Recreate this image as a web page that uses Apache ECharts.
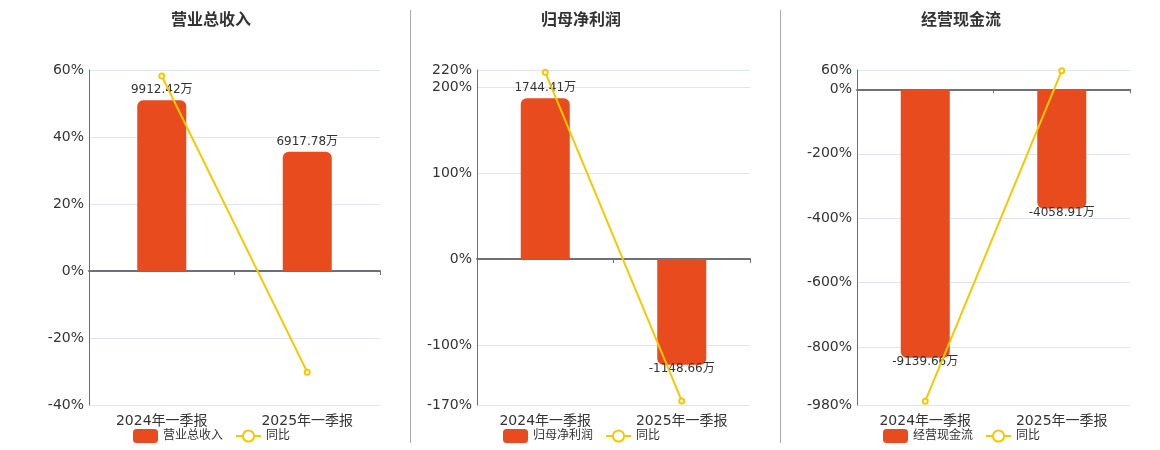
<!DOCTYPE html>
<html><head><meta charset="utf-8">
<script src="https://cdn.jsdelivr.net/npm/echarts@6/dist/echarts.min.js"></script>
<style>html,body{margin:0;padding:0;background:#fff}#c{width:1160px;height:450px}</style>
</head><body><div id="c"></div>
<script>
const categories = ['2024年一季报', '2025年一季报'];
const titles = ['营业总收入', '归母净利润', '经营现金流'];
const revenueValues = [9912.42, 6917.78];
const revenueYoY = [58.2, -30.2];
const netProfitValues = [1744.41, -1148.66];
const netProfitYoY = [217.3, -165.3];
const cashFlowValues = [-9139.66, -4058.91];
const cashFlowYoY = [-968, 57.9];
const revenueTicks = [-40, -20, 0, 20, 40, 60];
const netProfitTicks = [-170, -100, 0, 100, 200, 220];
const cashFlowTicks = [-980, -800, -600, -400, -200, 0, 60];

const panels = [
  { title: titles[0], bars: revenueValues, yoy: revenueYoY, ticks: revenueTicks },
  { title: titles[1], bars: netProfitValues, yoy: netProfitYoY, ticks: netProfitTicks },
  { title: titles[2], bars: cashFlowValues, yoy: cashFlowYoY, ticks: cashFlowTicks }
];
const gridLeft = [89, 477, 857];
const gridWidth = [291, 273, 273];
const titleLeft = [166, 536, 916];
const legendLeft = [128, 498, 878];
const BAR = '#e84b1d', LINE = '#f5c800', AXIS = '#6e7079';
const FONT = '"DejaVu Sans", "Noto Sans CJK SC", sans-serif';

const option = {
  animation: false,
  textStyle: { fontFamily: FONT },
  title: [], legend: [], grid: [], xAxis: [], yAxis: [], series: [],
  graphic: [
    { type: 'line', shape: { x1: 410.5, y1: 10, x2: 410.5, y2: 443 }, style: { stroke: '#aaa', lineWidth: 1 } },
    { type: 'line', shape: { x1: 780.5, y1: 10, x2: 780.5, y2: 443 }, style: { stroke: '#aaa', lineWidth: 1 } }
  ]
};

panels.forEach((p, i) => {
  const pmin = p.ticks[0], pmax = p.ticks[p.ticks.length - 1];
  let big = p.bars[0];
  p.bars.forEach(v => { if (Math.abs(v) > Math.abs(big)) big = v; });
  const scale = big > 0 ? (big / 0.85) / pmax : (big / 0.85) / pmin;
  option.title.push({
    text: p.title, left: titleLeft[i], top: 8,
    textStyle: { fontSize: 16, fontWeight: 'bold', color: '#333', fontFamily: FONT }
  });
  option.legend.push({
    left: legendLeft[i], top: 424, itemWidth: 25, itemHeight: 14, itemGap: 12,
    textStyle: { fontSize: 12, color: '#333', fontFamily: FONT },
    data: [{ name: p.title, icon: 'roundRect' }, '同比']
  });
  option.grid.push({ left: gridLeft[i], width: gridWidth[i], top: 70, height: 335 });
  option.xAxis.push({
    type: 'category', gridIndex: i, data: categories,
    axisLine: { onZero: true, onZeroAxisIndex: 2 * i, lineStyle: { color: AXIS, width: 2 } },
    axisTick: { show: true, length: 4, lineStyle: { color: AXIS } },
    axisLabel: { show: false }
  });
  option.xAxis.push({
    type: 'category', gridIndex: i, data: categories, position: 'bottom',
    axisLine: { show: false, onZero: false }, axisTick: { show: false },
    axisLabel: { fontSize: 14, color: '#333', margin: 9, fontFamily: FONT }
  });
  option.yAxis.push({
    type: 'value', gridIndex: i, min: pmin, max: pmax,
    axisLine: { show: true, lineStyle: { color: AXIS } },
    axisTick: { show: false, customValues: p.ticks },
    axisLabel: { fontSize: 14, color: '#333', margin: 5, padding: [3, 0, 0, 0], fontFamily: FONT, customValues: p.ticks, formatter: v => v + '%' },
    splitLine: { show: true, lineStyle: { color: '#e0e6f1' } }
  });
  option.yAxis.push({
    type: 'value', gridIndex: i, show: false, min: pmin * scale, max: pmax * scale,
    splitLine: { show: false }
  });
  option.series.push({
    type: 'bar', name: p.title, xAxisIndex: 2 * i, yAxisIndex: 2 * i + 1,
    barWidth: 49,
    itemStyle: { color: BAR },
    data: p.bars.map(v => ({
      value: v,
      itemStyle: { borderRadius: v >= 0 ? [6, 6, 0, 0] : [0, 0, 6, 6] },
      label: { show: true, position: v >= 0 ? 'top' : 'bottom', distance: v >= 0 ? 4 : -1.5, fontSize: 12, color: '#333', fontFamily: FONT, formatter: v + '万' }
    }))
  });
  option.series.push({
    type: 'line', name: '同比', xAxisIndex: 2 * i, yAxisIndex: 2 * i, z: 5,
    symbol: 'emptyCircle', symbolSize: 5,
    lineStyle: { color: LINE, width: 2 }, itemStyle: { color: LINE },
    data: p.yoy
  });
});

const chart = echarts.init(document.getElementById('c'));
chart.setOption(option);
</script></body></html>
